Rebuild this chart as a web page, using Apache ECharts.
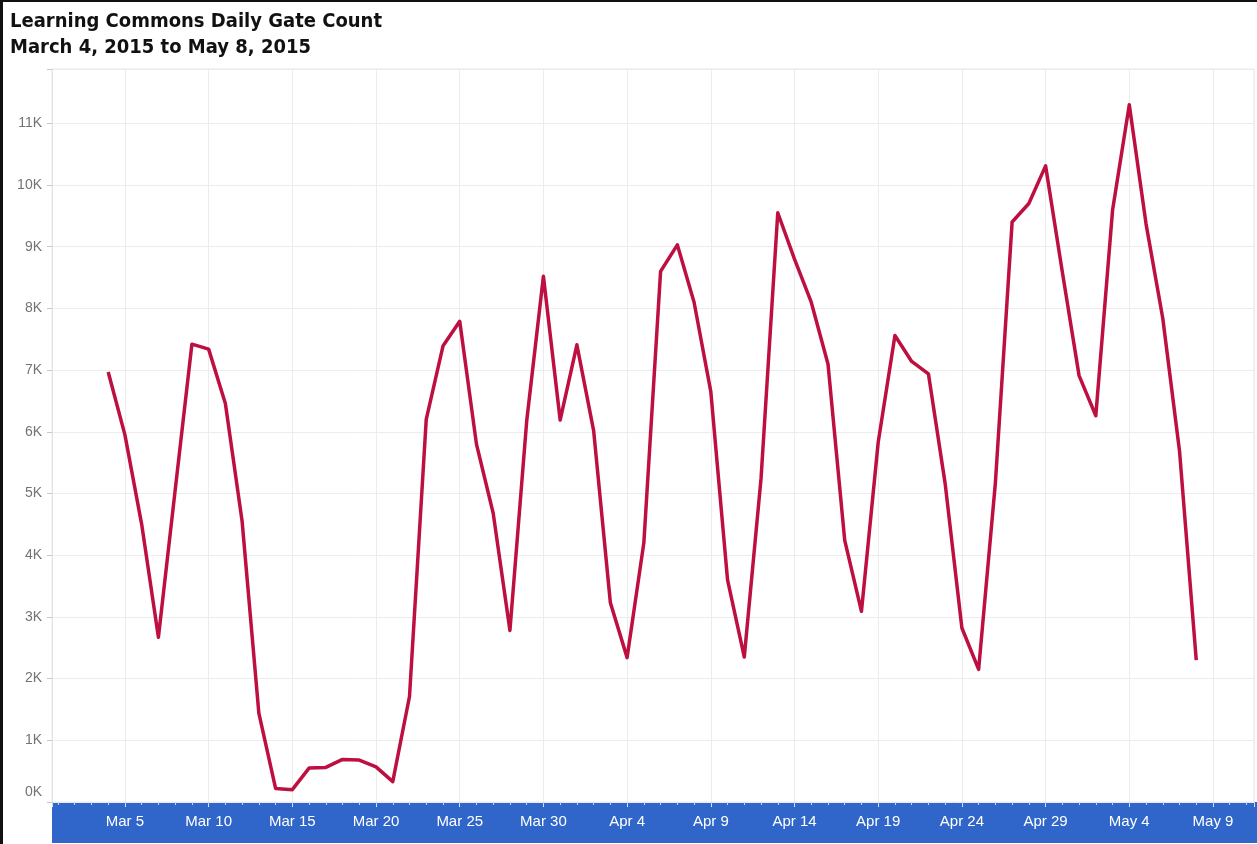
<!DOCTYPE html>
<html>
<head>
<meta charset="utf-8">
<script src="https://cdn.jsdelivr.net/npm/echarts@6/dist/echarts.min.js"></script>
<style>
  html, body { margin: 0; padding: 0; background: #fff; }
  #wrap { position: absolute; left: 0; top: 0; width: 1254px; height: 842px;
          border-left: 3px solid #111; border-top: 2px solid #111; }
  #c { width: 1254px; height: 842px; }
</style>
</head>
<body>
<div id="wrap"><div id="c"></div></div>
<script>
// ---- data ----
const dates = [
  '2015-03-04','2015-03-05','2015-03-06','2015-03-07','2015-03-08','2015-03-09','2015-03-10',
  '2015-03-11','2015-03-12','2015-03-13','2015-03-14','2015-03-15','2015-03-16','2015-03-17',
  '2015-03-18','2015-03-19','2015-03-20','2015-03-21','2015-03-22','2015-03-23','2015-03-24',
  '2015-03-25','2015-03-26','2015-03-27','2015-03-28','2015-03-29','2015-03-30','2015-03-31',
  '2015-04-01','2015-04-02','2015-04-03','2015-04-04','2015-04-05','2015-04-06','2015-04-07',
  '2015-04-08','2015-04-09','2015-04-10','2015-04-11','2015-04-12','2015-04-13','2015-04-14',
  '2015-04-15','2015-04-16','2015-04-17','2015-04-18','2015-04-19','2015-04-20','2015-04-21',
  '2015-04-22','2015-04-23','2015-04-24','2015-04-25','2015-04-26','2015-04-27','2015-04-28',
  '2015-04-29','2015-04-30','2015-05-01','2015-05-02','2015-05-03','2015-05-04','2015-05-05',
  '2015-05-06','2015-05-07','2015-05-08'
];
const gateCounts = [
  6970, 5950, 4500, 2670, 5050, 7420, 7340,
  6460, 4550, 1440, 220, 200, 550, 560,
  690, 680, 570, 330, 1710, 6200, 7390,
  7790, 5800, 4680, 2780, 6170, 8520, 6190,
  7410, 6020, 3230, 2340, 4200, 8600, 9030,
  8100, 6650, 3600, 2350, 5240, 9550, 8800,
  8100, 7100, 4240, 3090, 5830, 7560, 7140,
  6940, 5160, 2820, 2150, 5170, 9400, 9700,
  10310, 8590, 6910, 6260, 9590, 11300, 9370,
  7840, 5690, 2300
];
const monthNames = ['Jan','Feb','Mar','Apr','May','Jun','Jul','Aug','Sep','Oct','Nov','Dec'];
const titleLines = ['Learning Commons Daily Gate Count', 'March 4, 2015 to May 8, 2015'];

// day index relative to 2015-03-00 (Mar 5 -> 5, Apr 4 -> 35, May 9 -> 70)
const DAY = 86400000;
const base = Date.UTC(2015, 2, 0);
function dayIndex(s) {
  const p = s.split('-').map(Number);
  return Math.round((Date.UTC(p[0], p[1] - 1, p[2]) - base) / DAY);
}
function dayLabel(v) {
  const d = new Date(base + v * DAY);
  return monthNames[d.getUTCMonth()] + ' ' + d.getUTCDate();
}
const points = dates.map((d, i) => [dayIndex(d), gateCounts[i]]);

const chart = echarts.init(document.getElementById('c'), null, { renderer: 'canvas' });
const X_MIN = 0.643, X_MAX = 72.45;
chart.setOption({
  animation: false,
  backgroundColor: '#fff',
  title: {
    text: titleLines.join('\n'),
    left: 7, top: 7, padding: 0,
    textStyle: { fontFamily: 'DejaVu Sans Condensed', fontWeight: 'bold', fontSize: 20, lineHeight: 26, color: '#111' }
  },
  grid: { left: 49, right: 0, top: 67, bottom: 42, show: true, borderColor: '#e6e6e6', borderWidth: 1 },
  graphic: [{
    type: 'rect', z: -1,
    shape: { x: 49, y: 800, width: 1205, height: 41 },
    style: { fill: '#3066c9' }
  }],
  xAxis: [{
    type: 'value', min: X_MIN, max: X_MAX, minInterval: 5, maxInterval: 5,
    axisLine: { show: false },
    axisTick: { show: true, length: 5, lineStyle: { color: '#dfe6f5' } },
    splitLine: { show: true, lineStyle: { color: '#ececec' } },
    axisLabel: {
      color: '#fff', fontSize: 15, fontFamily: 'Liberation Sans', margin: 12,
      formatter: v => (Math.abs(v - Math.round(v)) < 1e-6 && Math.round(v) % 5 === 0) ? dayLabel(Math.round(v)) : ''
    }
  }, {
    type: 'value', min: X_MIN, max: X_MAX, minInterval: 1, maxInterval: 1, position: 'bottom',
    axisLine: { show: false },
    axisTick: { show: true, length: 3, lineStyle: { color: '#c9d6f0' } },
    splitLine: { show: false },
    axisLabel: { show: false }
  }],
  yAxis: {
    type: 'value', min: 0, max: 11880, minInterval: 1000, maxInterval: 1000,
    axisLine: { show: true, lineStyle: { color: '#e3e3e3' } },
    axisTick: { show: true, length: 5, lineStyle: { color: '#c8c8c8' } },
    splitLine: { show: true, lineStyle: { color: '#ececec' } },
    axisLabel: {
      color: '#737373', fontSize: 14, fontFamily: 'Liberation Sans', margin: 10,
      formatter: v => v === 0 ? '{z|0K}' : (v % 1000 === 0 ? (v / 1000) + 'K' : ''),
      rich: { z: { color: '#737373', fontSize: 14, fontFamily: 'Liberation Sans', padding: [0, 0, 20, 0] } }
    }
  },
  series: [{
    type: 'line', xAxisIndex: 0, data: points,
    showSymbol: false, symbol: 'none',
    lineStyle: { color: '#be1040', width: 3.5, join: 'round' },
    z: 3
  }]
});
</script>
</body>
</html>
